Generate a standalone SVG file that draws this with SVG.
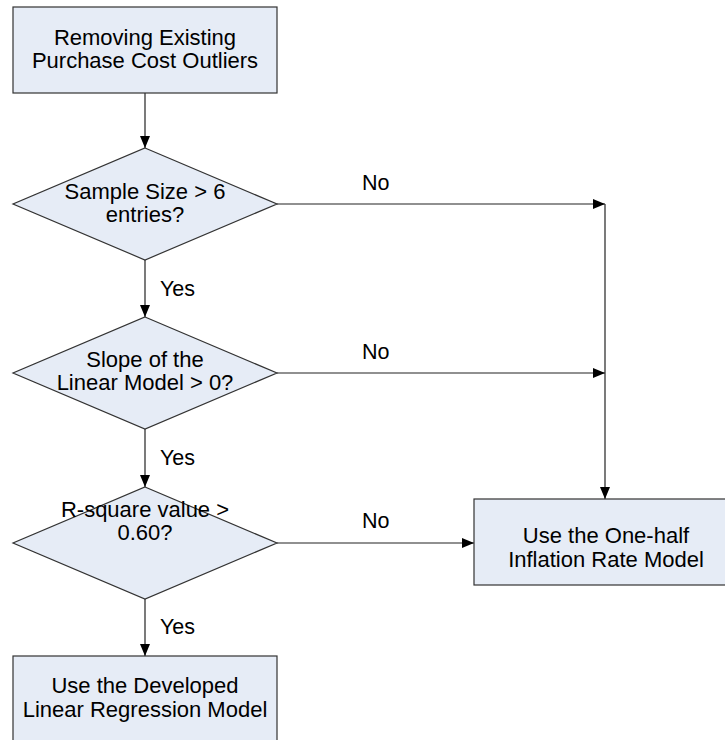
<svg xmlns="http://www.w3.org/2000/svg" width="725" height="740" viewBox="0 0 725 740">
<style>
.shape{fill:#e6ecf6;stroke:#333;stroke-width:1.2}
.t{font-family:"Liberation Sans",Arial,sans-serif;font-size:22px;fill:#000;text-anchor:middle}
.l{font-family:"Liberation Sans",Arial,sans-serif;font-size:21.5px;fill:#000}
.c{fill:none;stroke:#222;stroke-width:1.2}
</style>
<defs>
<marker id="ah" markerWidth="12" markerHeight="10" refX="12" refY="5" orient="auto" markerUnits="userSpaceOnUse">
<path d="M0,0 L12,5 L0,10 Z" fill="#000"/>
</marker>
</defs>
<rect width="725" height="740" fill="#fff"/>
<g id="connectors">
<path class="c" d="M145,93 V148" marker-end="url(#ah)"/>
<path class="c" d="M145,260 V317" marker-end="url(#ah)"/>
<path class="c" d="M145,429 V487" marker-end="url(#ah)"/>
<path class="c" d="M145,599 V656" marker-end="url(#ah)"/>
<path class="c" d="M277,204 H605" marker-end="url(#ah)"/>
<path class="c" d="M277,373 H605" marker-end="url(#ah)"/>
<path class="c" d="M605,204 V499" marker-end="url(#ah)"/>
<path class="c" d="M277,543 H474" marker-end="url(#ah)"/>
<text class="l" x="160" y="296">Yes</text>
<text class="l" x="160" y="465">Yes</text>
<text class="l" x="160" y="634">Yes</text>
<text class="l" x="362" y="190">No</text>
<text class="l" x="362" y="359">No</text>
<text class="l" x="362" y="528">No</text>
</g>
<g id="start">
<rect class="shape" x="13" y="7" width="264" height="86"/>
<text class="t" x="145" y="45">Removing Existing</text>
<text class="t" x="145" y="68">Purchase Cost Outliers</text>
</g>
<g id="d1">
<polygon class="shape" points="145,148 277,204 145,260 13,204"/>
<text class="t" x="145" y="199">Sample Size &gt; 6</text>
<text class="t" x="145" y="222">entries?</text>
</g>
<g id="d2">
<polygon class="shape" points="145,317 277,373 145,429 13,373"/>
<text class="t" x="145" y="367">Slope of the</text>
<text class="t" x="145" y="390">Linear Model &gt; 0?</text>
</g>
<g id="d3">
<polygon class="shape" points="145,487 277,543 145,599 13,543"/>
<text class="t" x="145" y="517">R-square value &gt;</text>
<text class="t" x="145" y="540">0.60?</text>
</g>
<g id="inflation">
<rect class="shape" x="474" y="499" width="260" height="86"/>
<text class="t" x="606" y="543">Use the One-half</text>
<text class="t" x="606" y="567">Inflation Rate Model</text>
</g>
<g id="regression">
<rect class="shape" x="13" y="656" width="264" height="100"/>
<text class="t" x="145" y="693">Use the Developed</text>
<text class="t" x="145" y="717">Linear Regression Model</text>
</g>
</svg>
